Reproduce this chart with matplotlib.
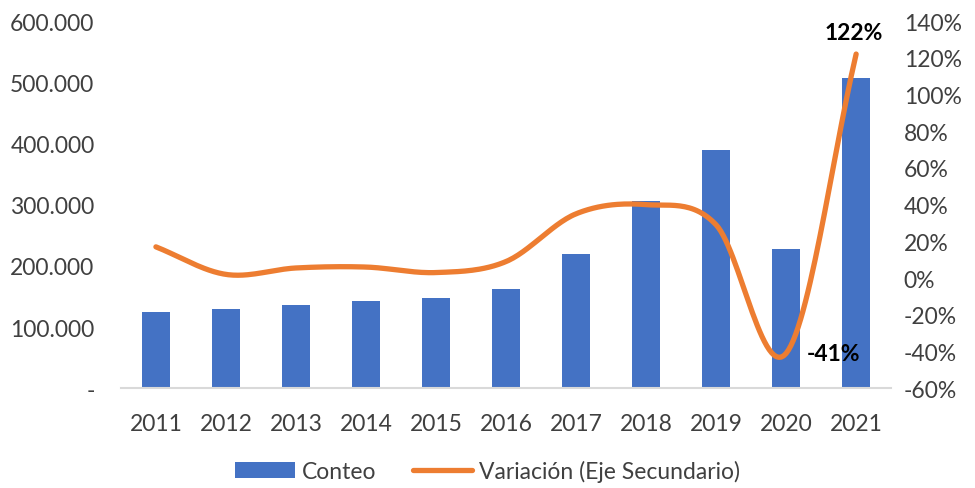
import numpy as np
import matplotlib
matplotlib.use("Agg")
import matplotlib.pyplot as plt
from matplotlib.ticker import FuncFormatter

years = ["2011", "2012", "2013", "2014", "2015", "2016", "2017", "2018", "2019", "2020", "2021"]
conteo = [124000, 129000, 136000, 142000, 147000, 162000, 219000, 306000, 389000, 228000, 507000]
variacion = [17, 2, 5.5, 6, 3, 9, 35, 40, 29, -41, 122]

plt.rcParams['font.family'] = ['Lato', 'DejaVu Sans']
text_color = '#404040'
fs = 16.5


def catmull_rom(x, y, n=30):
    # smoothed line like the spreadsheet "smooth line" option
    x = np.asarray(x, float)
    y = np.asarray(y, float)
    px = np.concatenate([[2 * x[0] - x[1]], x, [2 * x[-1] - x[-2]]])
    py = np.concatenate([[2 * y[0] - y[1]], y, [2 * y[-1] - y[-2]]])
    xs, ys = [], []
    t = np.linspace(0, 1, n)
    for i in range(1, len(px) - 2):
        for p, out in ((px, xs), (py, ys)):
            p0, p1, p2, p3 = p[i - 1], p[i], p[i + 1], p[i + 2]
            out.extend(0.5 * ((2 * p1) + (-p0 + p2) * t
                              + (2 * p0 - 5 * p1 + 4 * p2 - p3) * t ** 2
                              + (-p0 + 3 * p1 - 3 * p2 + p3) * t ** 3))
    return np.array(xs), np.array(ys)


fig = plt.figure(figsize=(9.75, 4.89), dpi=100)
ax = fig.add_axes([0.124, 0.204, 0.79, 0.751])
x = np.arange(len(years))

bars = ax.bar(x, conteo, width=0.4, color='#4472C4', label='Conteo', zorder=2)
ax.set_ylim(0, 600000)
ax.set_xlim(-0.5, len(years) - 0.5)
ax.set_yticks(np.arange(0, 600001, 100000))
ax.yaxis.set_major_formatter(FuncFormatter(
    lambda v, p: '-' if v == 0 else f'{int(v):,}'.replace(',', '.')))
ax.set_xticks(x)
ax.set_xticklabels(years)
for s in ['top', 'right', 'left']:
    ax.spines[s].set_visible(False)
ax.spines['bottom'].set_color('#d9d9d9')
ax.spines['bottom'].set_linewidth(1.5)
ax.tick_params(axis='both', length=0, labelsize=fs, colors=text_color)
ax.tick_params(axis='x', pad=18)
ax.tick_params(axis='y', pad=19)

ax2 = ax.twinx()
sx, sy = catmull_rom(x, variacion)
line, = ax2.plot(sx, sy, color='#ED7D31', linewidth=3.8, solid_capstyle='round',
                 label='Variación (Eje Secundario)', zorder=3)
ax2.set_ylim(-60, 140)
ax2.set_yticks(np.arange(-60, 141, 20))
ax2.yaxis.set_major_formatter(FuncFormatter(lambda v, p: f'{int(v)}%'))
for s in ax2.spines.values():
    s.set_visible(False)
ax2.tick_params(axis='y', length=0, labelsize=fs, colors=text_color, pad=9)

ax2.annotate(f'{variacion[-1]}%', (x[-1], variacion[-1]), xytext=(-2, 8),
             textcoords='offset points', ha='center', va='bottom',
             fontsize=fs, fontweight='bold', color='black')
ax2.annotate(f'{variacion[-2]}%', (x[-2], variacion[-2]), xytext=(15, 0),
             textcoords='offset points', ha='left', va='center',
             fontsize=fs, fontweight='bold', color='black')

leg = fig.legend(handles=[bars, line], loc='lower center', ncol=2, frameon=False,
                 bbox_to_anchor=(0.5, -0.03), fontsize=fs, handlelength=2.6,
                 columnspacing=1.6, handletextpad=0.3)
for t in leg.get_texts():
    t.set_color(text_color)

fig.savefig('out.png', dpi=100)
